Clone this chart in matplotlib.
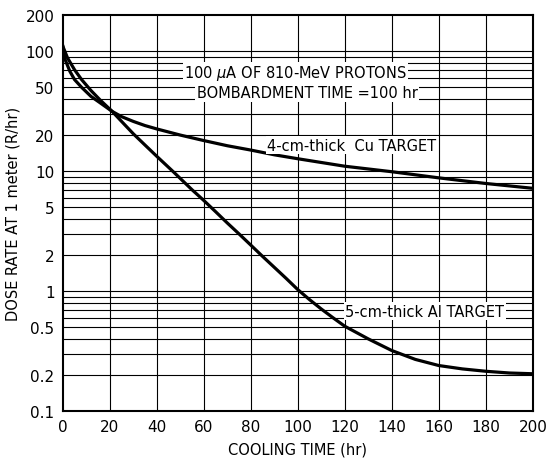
import matplotlib.pyplot as plt
from matplotlib.ticker import FixedLocator, NullFormatter

# Cooling time (hr) and dose rate (R/hr)
cu_time = [0, 1, 3, 5, 8, 12, 16, 21, 25, 30, 35, 40, 50, 60, 70, 80, 90, 100, 120, 140, 160, 180, 200]
cu_dose = [110, 85, 68, 58, 50, 42, 37, 31.5, 28.5, 26, 24, 22.5, 20, 18, 16.3, 15, 13.7, 12.7, 11, 9.9, 8.8, 7.9, 7.2]

al_time = [0, 2, 5, 8, 12, 16, 21, 25, 30, 35, 40, 47, 55, 60, 65, 70, 75, 80, 85, 90, 95, 100,
           105, 110, 115, 120, 130, 140, 150, 160, 170, 180, 190, 200]
al_dose = [110, 88, 70, 58, 47, 39, 31.5, 26, 20.5, 16.5, 13.3, 9.9, 7.0, 5.7, 4.6, 3.7, 3.0, 2.42, 1.95, 1.58, 1.28, 1.03,
           0.85, 0.71, 0.6, 0.51, 0.4, 0.32, 0.27, 0.24, 0.225, 0.215, 0.208, 0.205]

x_ticks = [0, 20, 40, 60, 80, 100, 120, 140, 160, 180, 200]
y_ticks = [0.1, 0.2, 0.5, 1, 2, 5, 10, 20, 50, 100, 200]
y_tick_labels = ['0.1', '0.2', '0.5', '1', '2', '5', '10', '20', '50', '100', '200']
y_grid = [m * d for d in [0.1, 1, 10] for m in range(1, 10)] + [100]

fig = plt.figure(figsize=(5.51, 4.6), dpi=100)
ax = fig.add_axes([0.114, 0.104, 0.853, 0.861])

ax.set_yscale('log')
ax.set_xlim(0, 200)
ax.set_ylim(0.1, 200)

# Grid: every 20 hr vertically, every 1..9 per decade horizontally
for x in x_ticks[1:-1]:
    ax.axvline(x, color='black', linewidth=0.8, zorder=1)
for y in y_grid[1:]:
    ax.axhline(y, color='black', linewidth=0.8, zorder=1)

ax.plot(cu_time, cu_dose, color='black', linewidth=2.3, zorder=3)
ax.plot(al_time, al_dose, color='black', linewidth=2.3, zorder=3)

box = dict(facecolor='white', edgecolor='none', pad=1)
ax.text(99, 66, '100 $\\mu$A OF 810-MeV PROTONS', ha='center', va='center',
        fontsize=10.5, bbox=box, zorder=4)
ax.text(104, 45, 'BOMBARDMENT TIME =100 hr', ha='center', va='center',
        fontsize=10.5, bbox=box, zorder=4)
ax.text(123, 16.5, '4-cm-thick  Cu TARGET', ha='center', va='center',
        fontsize=10.5, bbox=box, zorder=4)
ax.text(154, 0.68, '5-cm-thick Al TARGET', ha='center', va='center',
        fontsize=10.5, bbox=box, zorder=4)

ax.set_xticks(x_ticks)
ax.yaxis.set_major_locator(FixedLocator(y_ticks))
ax.set_yticklabels(y_tick_labels)
ax.yaxis.set_minor_formatter(NullFormatter())
ax.tick_params(axis='both', which='both', length=0, labelsize=11, pad=6)
ax.tick_params(axis='y', which='minor', length=0)

for s in ax.spines.values():
    s.set_linewidth(1.5)

ax.set_xlabel('COOLING TIME (hr)', fontsize=10.5, labelpad=5)
ax.set_ylabel('DOSE RATE AT 1 meter (R/hr)', fontsize=10.5, labelpad=4)

plt.savefig('out.png', dpi=100)
